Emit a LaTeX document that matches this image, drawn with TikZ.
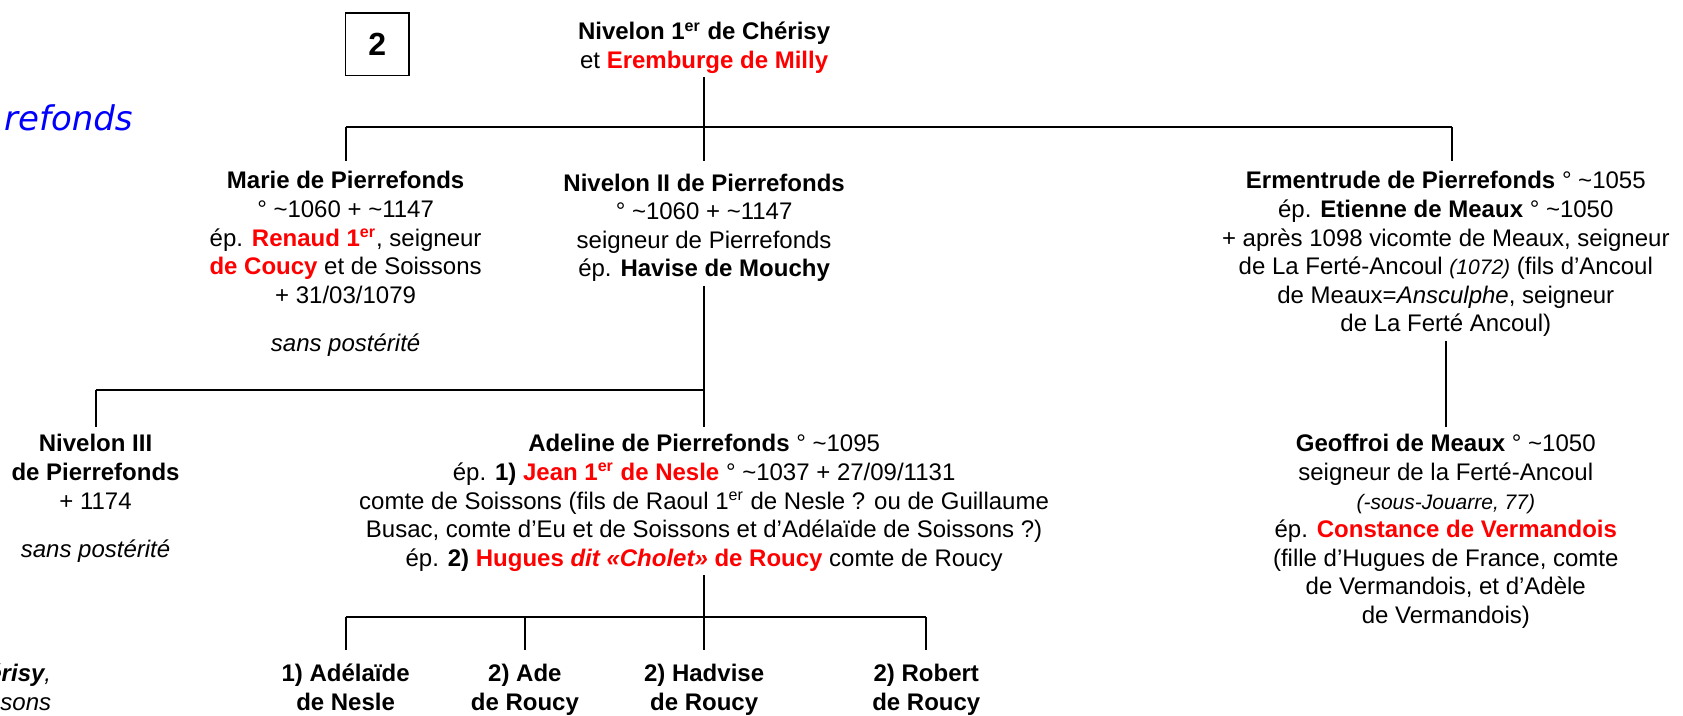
\documentclass[tikz,border=0pt]{standalone}
\usepackage{fontspec}
\setmainfont{Liberation Sans}
\newfontfamily\verdfont{DejaVu Sans}
\usepackage{xcolor}

\definecolor{rouge}{RGB}{255,0,0}
\definecolor{bleu}{RGB}{0,0,255}
\newcommand{\rb}[1]{\textcolor{rouge}{\textbf{#1}}}
\newcommand{\env}{\textasciitilde}
\newcommand{\pit}[1]{{\fontsize{10.5}{14.3}\itshape\selectfont #1}}

\tikzset{
  pers/.style={align=center, inner sep=0pt, anchor=north,
    font=\fontsize{12}{14.3}\selectfont,
    execute at begin node=\strut, execute at end node=\strut},
  lien/.style={line width=1pt},
}

\begin{document}
\begin{tikzpicture}[x=0.5367pt, y=-0.5367pt]
\useasboundingbox (0,0) rectangle (1568,667);
\clip (0,0) rectangle (1568,667);

% titre coupe et numero de planche
\node[anchor=east, inner sep=0pt, text=bleu, font=\verdfont\fontsize{17}{20}\itshape\selectfont] (titre) at (124,110) {refonds};
\node[draw, line width=0.6pt, minimum width=31.7pt, minimum height=31.1pt, inner sep=0pt, font=\fontsize{16}{18}\bfseries\selectfont] (numero) at (351.5,41) {2};

% generation 1
\node[pers] (sommet) at (656,20.4) {\textbf{Nivelon 1\textsuperscript{er} de Chérisy}\\ et \rb{Eremburge de Milly}};

% generation 2
\node[pers] (marie) at (322,159.4) {\textbf{Marie de Pierrefonds}\\ ° \env1060 + \env1147\\ ép. \rb{Renaud 1\textsuperscript{er}}, seigneur\\ \rb{de Coucy} et de Soissons\\ + 31/03/1079\\[10pt] \textit{sans postérité}};
\node[pers] (nivelon2) at (656,161.4) {\textbf{Nivelon II de Pierrefonds}\\ ° \env1060 + \env1147\\ seigneur de Pierrefonds\\ ép. \textbf{Havise de Mouchy}};
\node[pers] (ermentrude) at (1347,159.4) {\textbf{Ermentrude de Pierrefonds} ° \env1055\\ ép. \textbf{Etienne de Meaux} ° \env1050\\ + après 1098 vicomte de Meaux, seigneur\\ de La Ferté-Ancoul \pit{(1072)} (fils d’Ancoul\\ de Meaux=\textit{Ansculphe}, seigneur\\ de La Ferté Ancoul)};

% generation 3
\node[pers] (nivelon3) at (89,404.4) {\textbf{Nivelon III}\\ \textbf{de Pierrefonds}\\ + 1174\\[10pt] \textit{sans postérité}};
\node[pers] (adeline) at (656,404.4) {\textbf{Adeline de Pierrefonds} ° \env1095\\ ép. \textbf{1)} \rb{Jean 1\textsuperscript{er} de Nesle} ° \env1037 + 27/09/1131\\ comte de Soissons (fils de Raoul 1\textsuperscript{er} de Nesle ? ou de Guillaume\\ Busac, comte d’Eu et de Soissons et d’Adélaïde de Soissons ?)\\ ép. \textbf{2)} \rb{Hugues \textit{dit «Cholet»} de Roucy} comte de Roucy};
\node[pers] (geoffroi) at (1347,404.4) {\textbf{Geoffroi de Meaux} ° \env1050\\ seigneur de la Ferté-Ancoul\\ \pit{(-sous-Jouarre, 77)}\\ ép. \rb{Constance de Vermandois}\\ (fille d’Hugues de France, comte\\ de Vermandois, et d’Adèle\\ de Vermandois)};

% generation 4
\node[pers] (adelaide) at (322,618.4) {\textbf{1) Adélaïde}\\ \textbf{de Nesle}};
\node[pers] (ade) at (489,618.4) {\textbf{2) Ade}\\ \textbf{de Roucy}};
\node[pers] (hadvise) at (656,618.4) {\textbf{2) Hadvise}\\ \textbf{de Roucy}};
\node[pers] (robert) at (863,618.4) {\textbf{2) Robert}\\ \textbf{de Roucy}};

% fragment coupe en bas a gauche
\node[pers, anchor=north east, align=right] (fragment) at (48,618.4) {{\bfseries\itshape érisy}\textit{,}\\ \textit{ssons}};

% liens
\coordinate (b1o) at (322,118);
\coordinate (b1e) at (1353,118);
\coordinate (b2o) at (89,363);
\coordinate (b2e) at (656,363);
\coordinate (b3o) at (322,575);
\coordinate (b3e) at (863,575);

\draw[lien, shorten >=6pt] (sommet.south) -- (nivelon2.north);
\draw[lien] (b1o) -- (b1e);
\draw[lien, shorten >=5pt] (b1o) -- (marie.north);
\draw[lien, shorten >=5pt] (b1e) -- (b1e |- ermentrude.north);
\draw[lien, shorten >=3.4pt] (ermentrude.south) -- (geoffroi.north);

\draw[lien, shorten >=3.4pt] (nivelon2.south) -- (adeline.north);
\draw[lien] (b2o) -- (b2e);
\draw[lien, shorten >=3.4pt] (b2o) -- (nivelon3.north);

\draw[lien, shorten >=6.7pt] (adeline.south) -- (hadvise.north);
\draw[lien] (b3o) -- (b3e);
\draw[lien, shorten >=6.7pt] (b3o) -- (adelaide.north);
\draw[lien, shorten >=6.7pt] (ade.north |- b3o) -- (ade.north);
\draw[lien, shorten >=6.7pt] (b3e) -- (robert.north);
\end{tikzpicture}
\end{document}
